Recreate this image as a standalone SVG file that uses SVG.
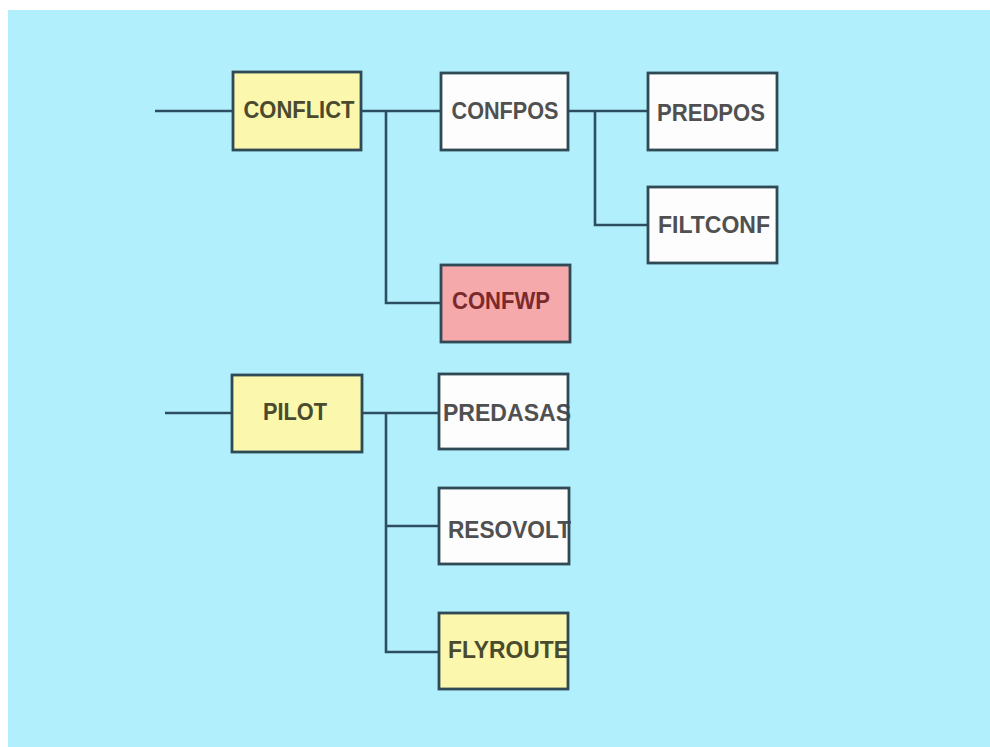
<svg xmlns="http://www.w3.org/2000/svg" width="990" height="747" viewBox="0 0 990 747">
<style>
.bg{fill:#b2effc}
.box{stroke:#2f4a55;stroke-width:2.8}
.frame{fill:none;stroke:#2f4a55;stroke-width:2.8}
.y{fill:#fbf7ac}
.w{fill:#fdfdfd}
.p{fill:#f6a9aa}
.lbl{font-family:"Liberation Sans",Arial,sans-serif;font-weight:bold;font-size:23px;fill:#505050}
.ly{fill:#4a4a2e}
.lp{fill:#7a2a2c}
.conn{fill:none;stroke:#2d4e60;stroke-width:2.6}
</style>
<rect x="0" y="0" width="990" height="747" fill="#ffffff"/>
<rect class="bg" x="8" y="10" width="982" height="737"/>
<g id="connectors">
<path class="conn" d="M155 111H233"/>
<path class="conn" d="M361 111H441M386 111V303H441"/>
<path class="conn" d="M568 111H648M595 111V225H648"/>
<path class="conn" d="M165 413H232"/>
<path class="conn" d="M362 413H439M386 413V652H439M386 526H439"/>
</g>
<g id="CONFLICT">
<rect class="box y" x="233" y="72" width="128" height="78"/>
<text class="lbl ly" x="299" y="118" text-anchor="middle" textLength="111" lengthAdjust="spacingAndGlyphs">CONFLICT</text>
</g>
<g id="CONFPOS">
<rect class="box w" x="441" y="73" width="127" height="77"/>
<text class="lbl" x="505" y="119" text-anchor="middle" textLength="107" lengthAdjust="spacingAndGlyphs">CONFPOS</text>
</g>
<g id="PREDPOS">
<rect class="box w" x="648" y="73" width="129" height="77"/>
<text class="lbl" x="711" y="121" text-anchor="middle" textLength="108" lengthAdjust="spacingAndGlyphs">PREDPOS</text>
</g>
<g id="FILTCONF">
<rect class="box w" x="648" y="187" width="129" height="76"/>
<text class="lbl" x="714" y="233" text-anchor="middle" textLength="112" lengthAdjust="spacingAndGlyphs">FILTCONF</text>
</g>
<g id="CONFWP">
<rect class="box p" x="441" y="265" width="129" height="77"/>
<text class="lbl lp" x="501" y="309" text-anchor="middle" textLength="98" lengthAdjust="spacingAndGlyphs">CONFWP</text>
</g>
<g id="PILOT">
<rect class="box y" x="232" y="375" width="130" height="77"/>
<text class="lbl ly" x="295" y="420" text-anchor="middle" textLength="64" lengthAdjust="spacingAndGlyphs">PILOT</text>
</g>
<g id="PREDASAS">
<rect class="w" x="439" y="374" width="129" height="75"/>
<text class="lbl" x="443" y="421" textLength="128" lengthAdjust="spacingAndGlyphs">PREDASAS</text>
<rect class="frame" x="439" y="374" width="129" height="75"/>
</g>
<g id="RESOVOLT">
<rect class="w" x="439" y="488" width="130" height="76"/>
<text class="lbl" x="448" y="538" textLength="123" lengthAdjust="spacingAndGlyphs">RESOVOLT</text>
<rect class="frame" x="439" y="488" width="130" height="76"/>
</g>
<g id="FLYROUTE">
<rect class="y" x="439" y="613" width="129" height="76"/>
<text class="lbl ly" x="448" y="658" textLength="121" lengthAdjust="spacingAndGlyphs">FLYROUTE</text>
<rect class="frame" x="439" y="613" width="129" height="76"/>
</g>
</svg>
